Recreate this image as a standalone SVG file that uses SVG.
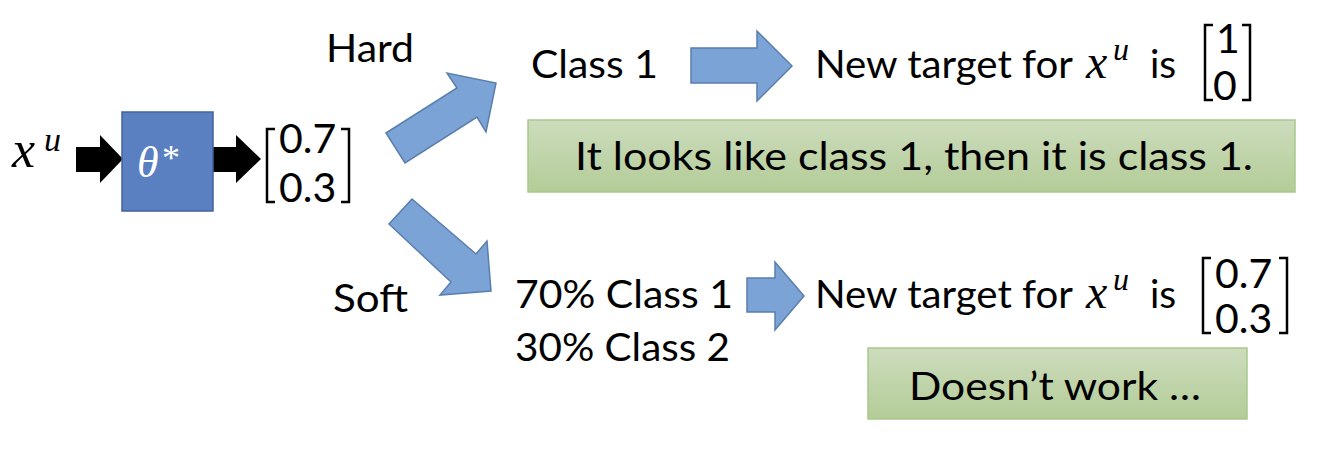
<svg xmlns="http://www.w3.org/2000/svg" width="1324" height="456" viewBox="0 0 1324 456">
<defs>
<linearGradient id="gg" x1="0" y1="0" x2="0" y2="1">
<stop offset="0" stop-color="#cddcbd"/>
<stop offset="1" stop-color="#b3cc97"/>
</linearGradient>
</defs>
<style>
.t{font-family:Lato,"Liberation Sans",sans-serif;font-size:39px;fill:#000}
.m{font-family:"Liberation Serif",serif;font-style:italic;fill:#000}
.d{font-family:Lato,"Liberation Sans",sans-serif;font-size:41px;fill:#000}
.blk{fill:#000}
.blu{fill:#7ba3d5;stroke:#5a7eae;stroke-width:1.5;stroke-linejoin:miter}
.grn{fill:url(#gg);stroke:#a9c88c;stroke-width:1.5}
.br{fill:none;stroke:#000;stroke-width:2.5}
</style>
<rect width="1324" height="456" fill="#fff"/>
<g id="connectors">
<polygon class="blk" points="76,147 100,147 100,135 123,159 100,183 100,172 76,172"/>
<polygon class="blk" points="213,147 236,147 236,135 261,159 236,183 236,172 213,172"/>
<polygon class="blu" points="386,133 457,88 447,73 496,83 486,132 477,117 405,163"/>
<polygon class="blu" points="412,199 476,254 487,241 491,291 440,295 451,282 389,224"/>
<polygon class="blu" points="691,48 757,48 757,31 792,66 757,101 757,83 691,83"/>
<polygon class="blu" points="747,278 775,278 775,262 804,296 775,330 775,312 747,312"/>
</g>
<g id="input">
<text class="m" x="12" y="167" font-size="52">x</text>
<text class="m" x="44" y="151" font-size="34">u</text>
</g>
<g id="model">
<rect x="122" y="112" width="91" height="99" fill="#5b80c2" stroke="#41629a" stroke-width="1.5"/>
<text class="m" x="137" y="177" font-size="44" style="fill:#fff">θ</text>
<text x="162" y="170" font-size="36" font-family="Liberation Serif,serif" fill="#fff">*</text>
</g>
<g id="output">
<path class="br" d="M275,129 H267 V202 H275"/>
<path class="br" d="M341,129 H349 V202 H341"/>
<text class="d" x="279" y="153">0.7</text>
<text class="d" x="279" y="202">0.3</text>
</g>
<g id="hard-label">
<text class="t" x="326" y="62" textLength="88" lengthAdjust="spacingAndGlyphs">Hard</text>
</g>
<g id="soft-label">
<text class="t" x="333" y="312" textLength="75" lengthAdjust="spacingAndGlyphs">Soft</text>
</g>
<g id="class1">
<text class="t" x="531" y="78" textLength="127" lengthAdjust="spacingAndGlyphs">Class 1</text>
</g>
<g id="hard-target">
<text class="t" x="815" y="78" textLength="258" lengthAdjust="spacingAndGlyphs">New target for</text>
<text class="m" x="1086" y="78" font-size="48">x</text>
<text class="m" x="1113" y="60" font-size="32">u</text>
<text class="t" x="1150" y="78">is</text>
<path class="br" d="M1213,25 H1205 V100 H1213"/>
<path class="br" d="M1242,25 H1250 V100 H1242"/>
<text class="d" x="1216" y="53">1</text>
<text class="d" x="1213" y="100">0</text>
</g>
<g id="hard-note">
<rect class="grn" x="528" y="120" width="767" height="72"/>
<text class="t" x="575" y="170" textLength="678" lengthAdjust="spacingAndGlyphs">It looks like class 1, then it is class 1.</text>
</g>
<g id="soft-classes">
<text class="t" x="515" y="308" textLength="218" lengthAdjust="spacingAndGlyphs">70% Class 1</text>
<text class="t" x="515" y="361" textLength="215" lengthAdjust="spacingAndGlyphs">30% Class 2</text>
</g>
<g id="soft-target">
<text class="t" x="815" y="308" textLength="258" lengthAdjust="spacingAndGlyphs">New target for</text>
<text class="m" x="1086" y="308" font-size="48">x</text>
<text class="m" x="1113" y="290" font-size="32">u</text>
<text class="t" x="1150" y="308">is</text>
<path class="br" d="M1211,258 H1203 V333 H1211"/>
<path class="br" d="M1279,258 H1287 V333 H1279"/>
<text class="d" x="1215" y="288">0.7</text>
<text class="d" x="1215" y="333">0.3</text>
</g>
<g id="soft-note">
<rect class="grn" x="868" y="348" width="379" height="71"/>
<text class="t" x="909" y="400" textLength="292" lengthAdjust="spacingAndGlyphs">Doesn’t work …</text>
</g>
</svg>
